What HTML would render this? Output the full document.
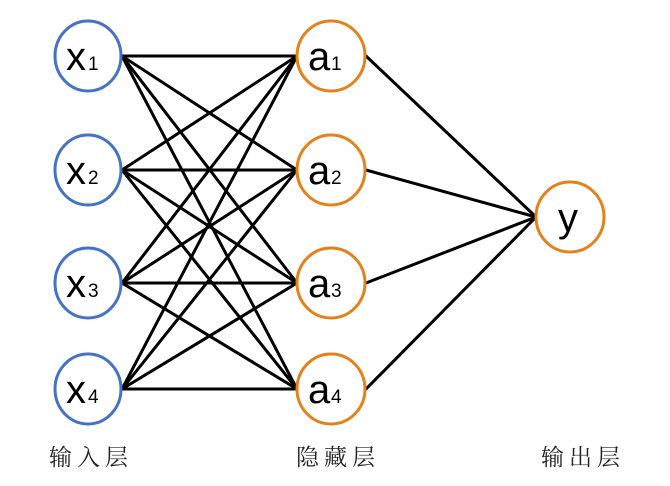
<!DOCTYPE html>
<html><head><meta charset="utf-8"><style>
html,body{margin:0;padding:0;background:#fff;}
svg{display:block}
</style></head><body>
<svg width="670" height="486" viewBox="0 0 670 486">
<g stroke="#000" stroke-width="3" stroke-linecap="round">
<line x1="122" y1="56" x2="297" y2="56"/><line x1="122" y1="56" x2="297" y2="170"/><line x1="122" y1="56" x2="297" y2="283"/><line x1="122" y1="56" x2="297" y2="389"/>
<line x1="122" y1="170" x2="297" y2="56"/><line x1="122" y1="170" x2="297" y2="170"/><line x1="122" y1="170" x2="297" y2="283"/><line x1="122" y1="170" x2="297" y2="389"/>
<line x1="122" y1="283" x2="297" y2="56"/><line x1="122" y1="283" x2="297" y2="170"/><line x1="122" y1="283" x2="297" y2="283"/><line x1="122" y1="283" x2="297" y2="389"/>
<line x1="122" y1="389" x2="297" y2="56"/><line x1="122" y1="389" x2="297" y2="170"/><line x1="122" y1="389" x2="297" y2="283"/><line x1="122" y1="389" x2="297" y2="389"/>
<line x1="366" y1="56" x2="536" y2="217"/><line x1="366" y1="170" x2="536" y2="217"/><line x1="366" y1="283" x2="536" y2="217"/><line x1="366" y1="389" x2="536" y2="217"/>
</g>
<g fill="#fff" stroke-width="3">
<g stroke="#4472c4">
<ellipse cx="88" cy="56" rx="33" ry="35"/><ellipse cx="88" cy="170" rx="33" ry="35"/><ellipse cx="88" cy="283" rx="33" ry="35"/><ellipse cx="88" cy="389" rx="33" ry="35"/>
</g>
<g stroke="#e4811b">
<ellipse cx="331" cy="56" rx="34" ry="35"/><ellipse cx="331" cy="170" rx="34" ry="35"/><ellipse cx="331" cy="283" rx="34" ry="35"/><ellipse cx="331" cy="389" rx="34" ry="35"/>
<ellipse cx="570" cy="217" rx="34" ry="35"/>
</g>
</g>
<g font-family="Liberation Sans, sans-serif" fill="#000">
<g font-size="40">
<text x="66" y="70">x</text><text x="66" y="184">x</text><text x="66" y="297">x</text><text x="66" y="403">x</text>
<text x="308" y="70">a</text><text x="308" y="184">a</text><text x="308" y="297">a</text><text x="308" y="403">a</text>
<text x="558" y="231">y</text>
</g>
<g font-size="19">
<text x="88" y="70">1</text><text x="88" y="184">2</text><text x="88" y="297">3</text><text x="88" y="403">4</text>
<text x="331" y="70">1</text><text x="331" y="184">2</text><text x="331" y="297">3</text><text x="331" y="403">4</text>
</g>
</g>
<g font-family="Liberation Serif, Noto Serif CJK SC, serif" font-size="23" fill="#222" letter-spacing="5">
<text x="49" y="465">输入层</text>
<text x="296" y="465">隐藏层</text>
<text x="541" y="465">输出层</text>
</g>
</svg>
</body></html>
